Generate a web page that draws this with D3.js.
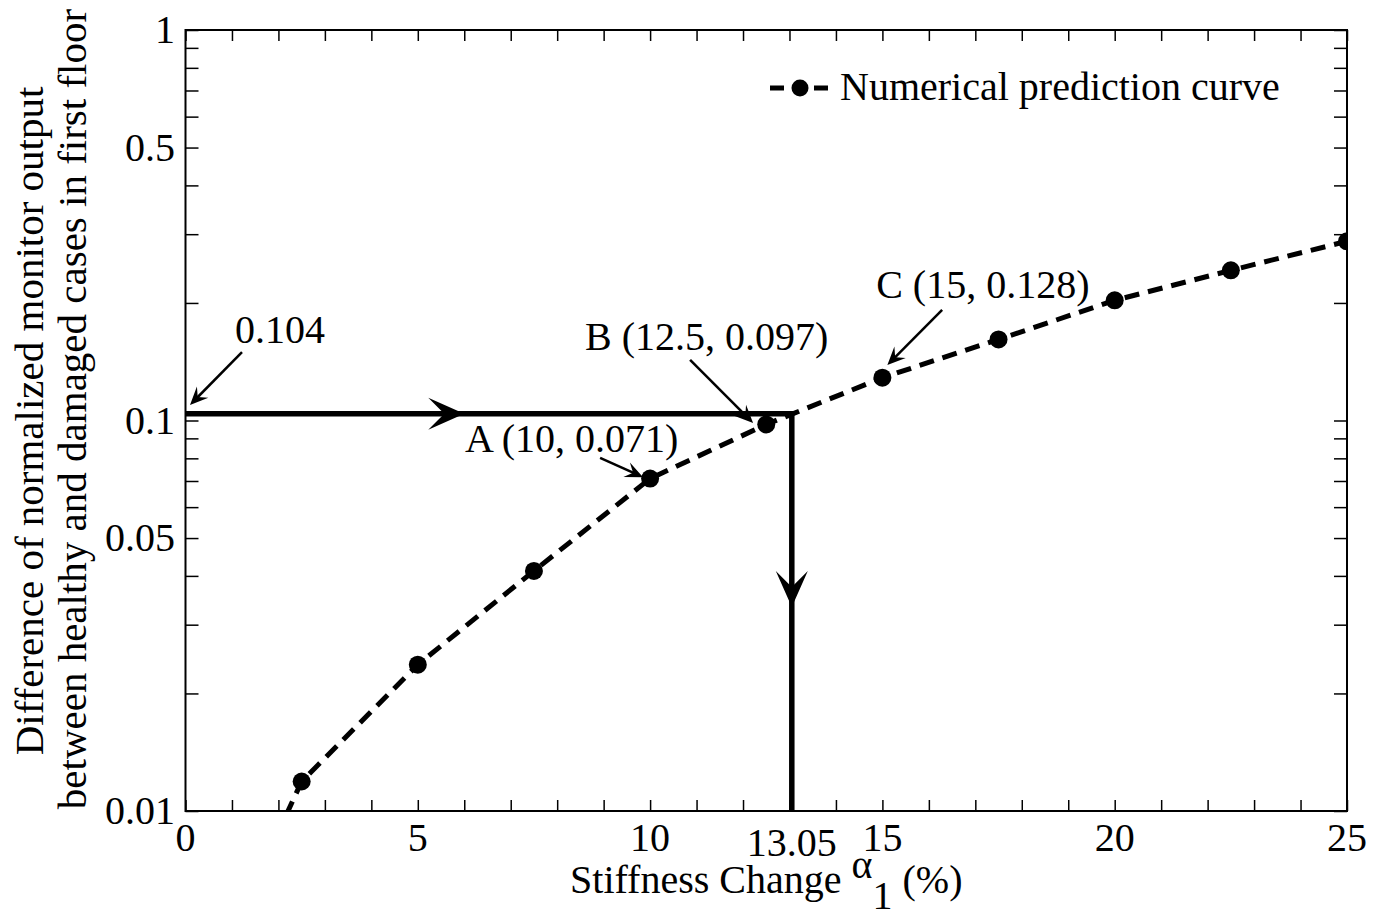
<!DOCTYPE html>
<html>
<head>
<meta charset="utf-8">
<script src="https://cdn.jsdelivr.net/npm/d3@7"></script>
<style>
  html, body { margin: 0; padding: 0; background: #fff; }
  svg { display: block; }
  text { font-family: "Liberation Serif", "Times New Roman", serif; fill: #000; }
</style>
</head>
<body>
<svg id="chart" width="1377" height="915"></svg>
<script>
// ---- data ----
const stiffnessChange = [0, 2.5, 5, 7.5, 10, 12.5, 15, 17.5, 20, 22.5, 25];
const monitorDiff = [0.0027, 0.0119, 0.0237, 0.0412, 0.071, 0.0977, 0.1287, 0.1613, 0.2031, 0.2424, 0.2877];
const xTickLabels = [0, 5, 10, 15, 20, 25];
const yTickLabels = [0.01, 0.05, 0.1, 0.5, 1];
const measuredValue = 0.104;
const estimatedChange = 13.05;
const seriesName = "Numerical prediction curve";
const annotLabels = ["0.104", "A (10, 0.071)", "B (12.5, 0.097)", "C (15, 0.128)"];
// text anchor (data coords), arrow tail, arrow head (data coords)
const annotTextX = [1.066, 6.017, 8.601, 14.865];
const annotTextY = [0.158, 0.083, 0.1515, 0.206];
const arrowTailX = [1.216, 8.924, 10.861, 16.286];
const arrowTailY = [0.1497, 0.0802, 0.1429, 0.1919];
const arrowHeadX = [0.097, 9.849, 12.217, 15.107];
const arrowHeadY = [0.1096, 0.0716, 0.0985, 0.1387];
const flowArrowTipX = 6.0;
const flowArrowTipY = 0.0333;

// ---- layout ----
const svg = d3.select("#chart");
const L = 185.5, R = 1347, T = 30, B = 811;
const x = d3.scaleLinear().domain([0, 25]).range([L, R]);
const y = d3.scaleLog().domain([0.01, 1]).range([B, T]);
const FS = 40;

svg.append("defs").append("clipPath").attr("id", "clip")
  .append("rect").attr("x", L).attr("y", T).attr("width", R - L).attr("height", B - T);

// ticks (inward, all four sides)
const xTicks = d3.range(0, 26, 1);
const yTicks = [];
[0.01, 0.1].forEach(d => { for (let k = 1; k <= 9; k++) yTicks.push(+(d * k).toPrecision(3)); });
yTicks.push(1);

const axB = d3.axisBottom(x).tickValues(xTicks).tickSizeInner(-11).tickSizeOuter(0).tickFormat("");
const axT = d3.axisTop(x).tickValues(xTicks).tickSizeInner(-11).tickSizeOuter(0).tickFormat("");
const axL = d3.axisLeft(y).tickValues(yTicks).tickSizeInner(-13).tickSizeOuter(0).tickFormat("");
const axR = d3.axisRight(y).tickValues(yTicks).tickSizeInner(-13).tickSizeOuter(0).tickFormat("");

function styleAxis(g) {
  g.selectAll("path").remove();
  g.selectAll("line").attr("stroke", "#000").attr("stroke-width", 1.5);
}
svg.append("g").attr("transform", `translate(0,${B})`).call(axB).call(styleAxis);
svg.append("g").attr("transform", `translate(0,${T})`).call(axT).call(styleAxis);
svg.append("g").attr("transform", `translate(${L},0)`).call(axL).call(styleAxis);
svg.append("g").attr("transform", `translate(${R},0)`).call(axR).call(styleAxis);

svg.append("rect").attr("x", L).attr("y", T).attr("width", R - L).attr("height", B - T)
  .attr("fill", "none").attr("stroke", "#000").attr("stroke-width", 2);

// tick labels
svg.append("g").selectAll("text").data(xTickLabels).join("text")
  .attr("x", d => x(d)).attr("y", 851).attr("text-anchor", "middle")
  .attr("font-size", FS).text(d => d);
svg.append("text").attr("x", x(estimatedChange)).attr("y", 856).attr("text-anchor", "middle")
  .attr("font-size", FS).text(estimatedChange.toFixed(2));
svg.append("g").selectAll("text").data(yTickLabels).join("text")
  .attr("x", 175).attr("y", d => y(d) + 13).attr("text-anchor", "end")
  .attr("font-size", FS).text(d => d);

// axis labels
const xl = svg.append("text").attr("x", (L + R) / 2).attr("y", 893)
  .attr("text-anchor", "middle").attr("font-size", FS);
xl.append("tspan").text("Stiffness Change ");
xl.append("tspan").attr("dy", -15).text("α");
xl.append("tspan").attr("dy", 31).text("1");
xl.append("tspan").attr("dy", -16).text(" (%)");

svg.append("text").attr("transform", `translate(43,421) rotate(-90)`)
  .attr("text-anchor", "middle").attr("font-size", 41)
  .text("Difference of normalized monitor output");
svg.append("text").attr("transform", `translate(86,409) rotate(-90)`)
  .attr("text-anchor", "middle").attr("font-size", 41)
  .text("between healthy and damaged cases in first floor");

// data line + markers
const plot = svg.append("g").attr("clip-path", "url(#clip)");
const pts = stiffnessChange.map((d, i) => [d, monitorDiff[i]]);
plot.append("path").datum(pts)
  .attr("d", d3.line().x(d => x(d[0])).y(d => y(d[1])))
  .attr("fill", "none").attr("stroke", "#000").attr("stroke-width", 5)
  .attr("stroke-dasharray", "15,9");
plot.selectAll("circle").data(pts).join("circle")
  .attr("cx", d => x(d[0])).attr("cy", d => y(d[1])).attr("r", 9).attr("fill", "#000");

// flow lines
svg.append("path")
  .attr("d", `M${x(0)},${y(measuredValue)} L${x(estimatedChange)},${y(measuredValue)} L${x(estimatedChange)},${y(0.01)}`)
  .attr("fill", "none").attr("stroke", "#000").attr("stroke-width", 5.5).attr("stroke-linejoin", "miter");

function arrowHead(tx, ty, angle, len, half, notch) {
  const c = Math.cos(angle), s = Math.sin(angle);
  const p = (a, b) => [tx + a * c - b * s, ty + a * s + b * c];
  const pts = [p(0, 0), p(-len, -half), p(-notch, 0), p(-len, half)];
  return "M" + pts.map(q => q.join(",")).join("L") + "Z";
}
svg.append("path").attr("d", arrowHead(x(flowArrowTipX), y(measuredValue), 0, 36, 16, 20)).attr("fill", "#000");
svg.append("path").attr("d", arrowHead(x(estimatedChange), y(flowArrowTipY), Math.PI / 2, 36, 16, 20)).attr("fill", "#000");

// annotations
annotLabels.forEach((lab, i) => {
  svg.append("text").attr("x", x(annotTextX[i])).attr("y", y(annotTextY[i]))
    .attr("font-size", FS).text(lab);
  const x1 = x(arrowTailX[i]), y1 = y(arrowTailY[i]);
  const x2 = x(arrowHeadX[i]), y2 = y(arrowHeadY[i]);
  const ang = Math.atan2(y2 - y1, x2 - x1);
  svg.append("line").attr("x1", x1).attr("y1", y1)
    .attr("x2", x2 - 8 * Math.cos(ang)).attr("y2", y2 - 8 * Math.sin(ang))
    .attr("stroke", "#000").attr("stroke-width", 2.5);
  svg.append("path").attr("d", arrowHead(x2, y2, ang, 18, 8, 11)).attr("fill", "#000");
});

// legend
const lg = svg.append("g");
lg.append("line").attr("x1", 770).attr("x2", 830).attr("y1", 88).attr("y2", 88)
  .attr("stroke", "#000").attr("stroke-width", 5).attr("stroke-dasharray", "14,8");
lg.append("circle").attr("cx", 800).attr("cy", 88).attr("r", 8.5).attr("fill", "#000");
lg.append("text").attr("x", 840).attr("y", 100).attr("font-size", FS).text(seriesName);
</script>
</body>
</html>
